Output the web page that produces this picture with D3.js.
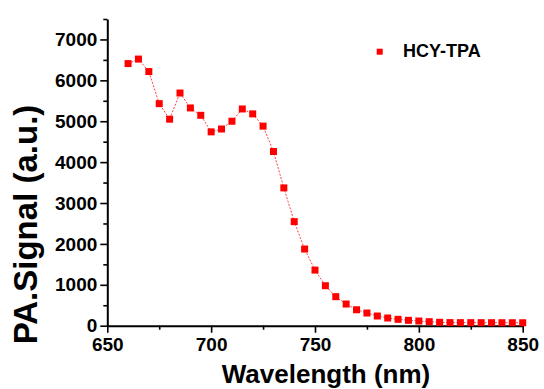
<!DOCTYPE html>
<html>
<head>
<meta charset="utf-8">
<script src="https://cdn.jsdelivr.net/npm/d3@7"></script>
<style>
  body { margin: 0; background: #fff; }
  text { font-family: "Liberation Sans", Arial, sans-serif; font-weight: bold; }
</style>
</head>
<body>
<div id="chart"></div>
<script>
var width = 544;
var height = 389;
var margin = {top: 19, left: 107.3, right: 21.3, bottom: 63.3};

var wavelength = [660, 665, 670, 675, 680, 685, 690, 695, 700, 705,
                  710, 715, 720, 725, 730, 735, 740, 745, 750, 755,
                  760, 765, 770, 775, 780, 785, 790, 795, 800, 805,
                  810, 815, 820, 825, 830, 835, 840, 845, 850];
var signal = [6410, 6520, 6215, 5430, 5050, 5690, 5325, 5145, 4740, 4810,
              5000, 5300, 5180, 4880, 4260, 3370, 2545, 1875, 1360, 978,
              710, 530, 390, 310, 237, 188, 156, 132, 115, 98,
              83, 76, 75, 75, 74, 74, 73, 73, 72];
var xTicks = [650, 700, 750, 800, 850];
var yTicks = [0, 1000, 2000, 3000, 4000, 5000, 6000, 7000];
var seriesName = "HCY-TPA";

var data = wavelength.map(function(w, i) { return {w: w, s: signal[i]}; });

var svg = d3.select("#chart")
  .append("svg")
  .attr("width", width)
  .attr("height", height);

var xScale = d3.scaleLinear()
  .domain([650, 850])
  .range([margin.left, width - margin.right]);

var yScale = d3.scaleLinear()
  .domain([0, 7500])
  .range([height - margin.bottom, margin.top]);

// minor ticks first, then major axes on top
svg.append("g")
  .attr("transform", `translate(0,${height - margin.bottom})`)
  .call(d3.axisBottom(xScale).tickValues(d3.range(675, 850, 50)).tickSize(4).tickFormat(""))
  .call(function(g) { g.select(".domain").remove(); });

svg.append("g")
  .attr("transform", `translate(${margin.left},0)`)
  .call(d3.axisLeft(yScale).tickValues(d3.range(500, 7600, 1000)).tickSize(4).tickFormat(""))
  .call(function(g) { g.select(".domain").remove(); });

var xAxis = svg.append("g")
  .attr("transform", `translate(0,${height - margin.bottom})`)
  .call(d3.axisBottom(xScale).tickValues(xTicks).tickFormat(d3.format("d"))
    .tickSize(7).tickSizeOuter(0).tickPadding(5));

var yAxis = svg.append("g")
  .attr("transform", `translate(${margin.left},0)`)
  .call(d3.axisLeft(yScale).tickValues(yTicks).tickFormat(d3.format("d"))
    .tickSize(7).tickSizeOuter(0).tickPadding(3));

svg.selectAll(".domain").attr("stroke", "#000").attr("stroke-width", 2);
svg.selectAll(".tick line").attr("stroke", "#000").attr("stroke-width", 1.6);
svg.selectAll(".tick text").attr("fill", "#000").style("font-size", "19px");

svg.append("text")
  .attr("x", 326)
  .attr("y", 383)
  .attr("text-anchor", "middle")
  .style("font-size", "26px")
  .text("Wavelength (nm)");

svg.append("text")
  .attr("transform", "translate(37,224.5) rotate(-90)")
  .attr("text-anchor", "middle")
  .style("font-size", "33px")
  .text("PA.Signal (a.u.)");

var line = d3.line()
  .x(function(d) { return xScale(d.w); })
  .y(function(d) { return yScale(d.s); });

svg.append("path")
  .datum(data)
  .attr("d", line)
  .attr("fill", "none")
  .attr("stroke", "#ff4040")
  .attr("stroke-width", 1)
  .attr("stroke-dasharray", "2,1.5");

var ms = 7;
svg.selectAll("rect.pt")
  .data(data)
  .enter()
  .append("rect")
    .attr("class", "pt")
    .attr("x", function(d) { return xScale(d.w) - ms / 2; })
    .attr("y", function(d) { return yScale(d.s) - ms / 2; })
    .attr("width", ms)
    .attr("height", ms)
    .attr("fill", "#ff0000");

// legend
svg.append("rect")
  .attr("x", 376.7)
  .attr("y", 48.7)
  .attr("width", 6)
  .attr("height", 6)
  .attr("fill", "#ff0000");

svg.append("text")
  .attr("x", 403)
  .attr("y", 57.3)
  .style("font-size", "18px")
  .text(seriesName);
</script>
</body>
</html>
